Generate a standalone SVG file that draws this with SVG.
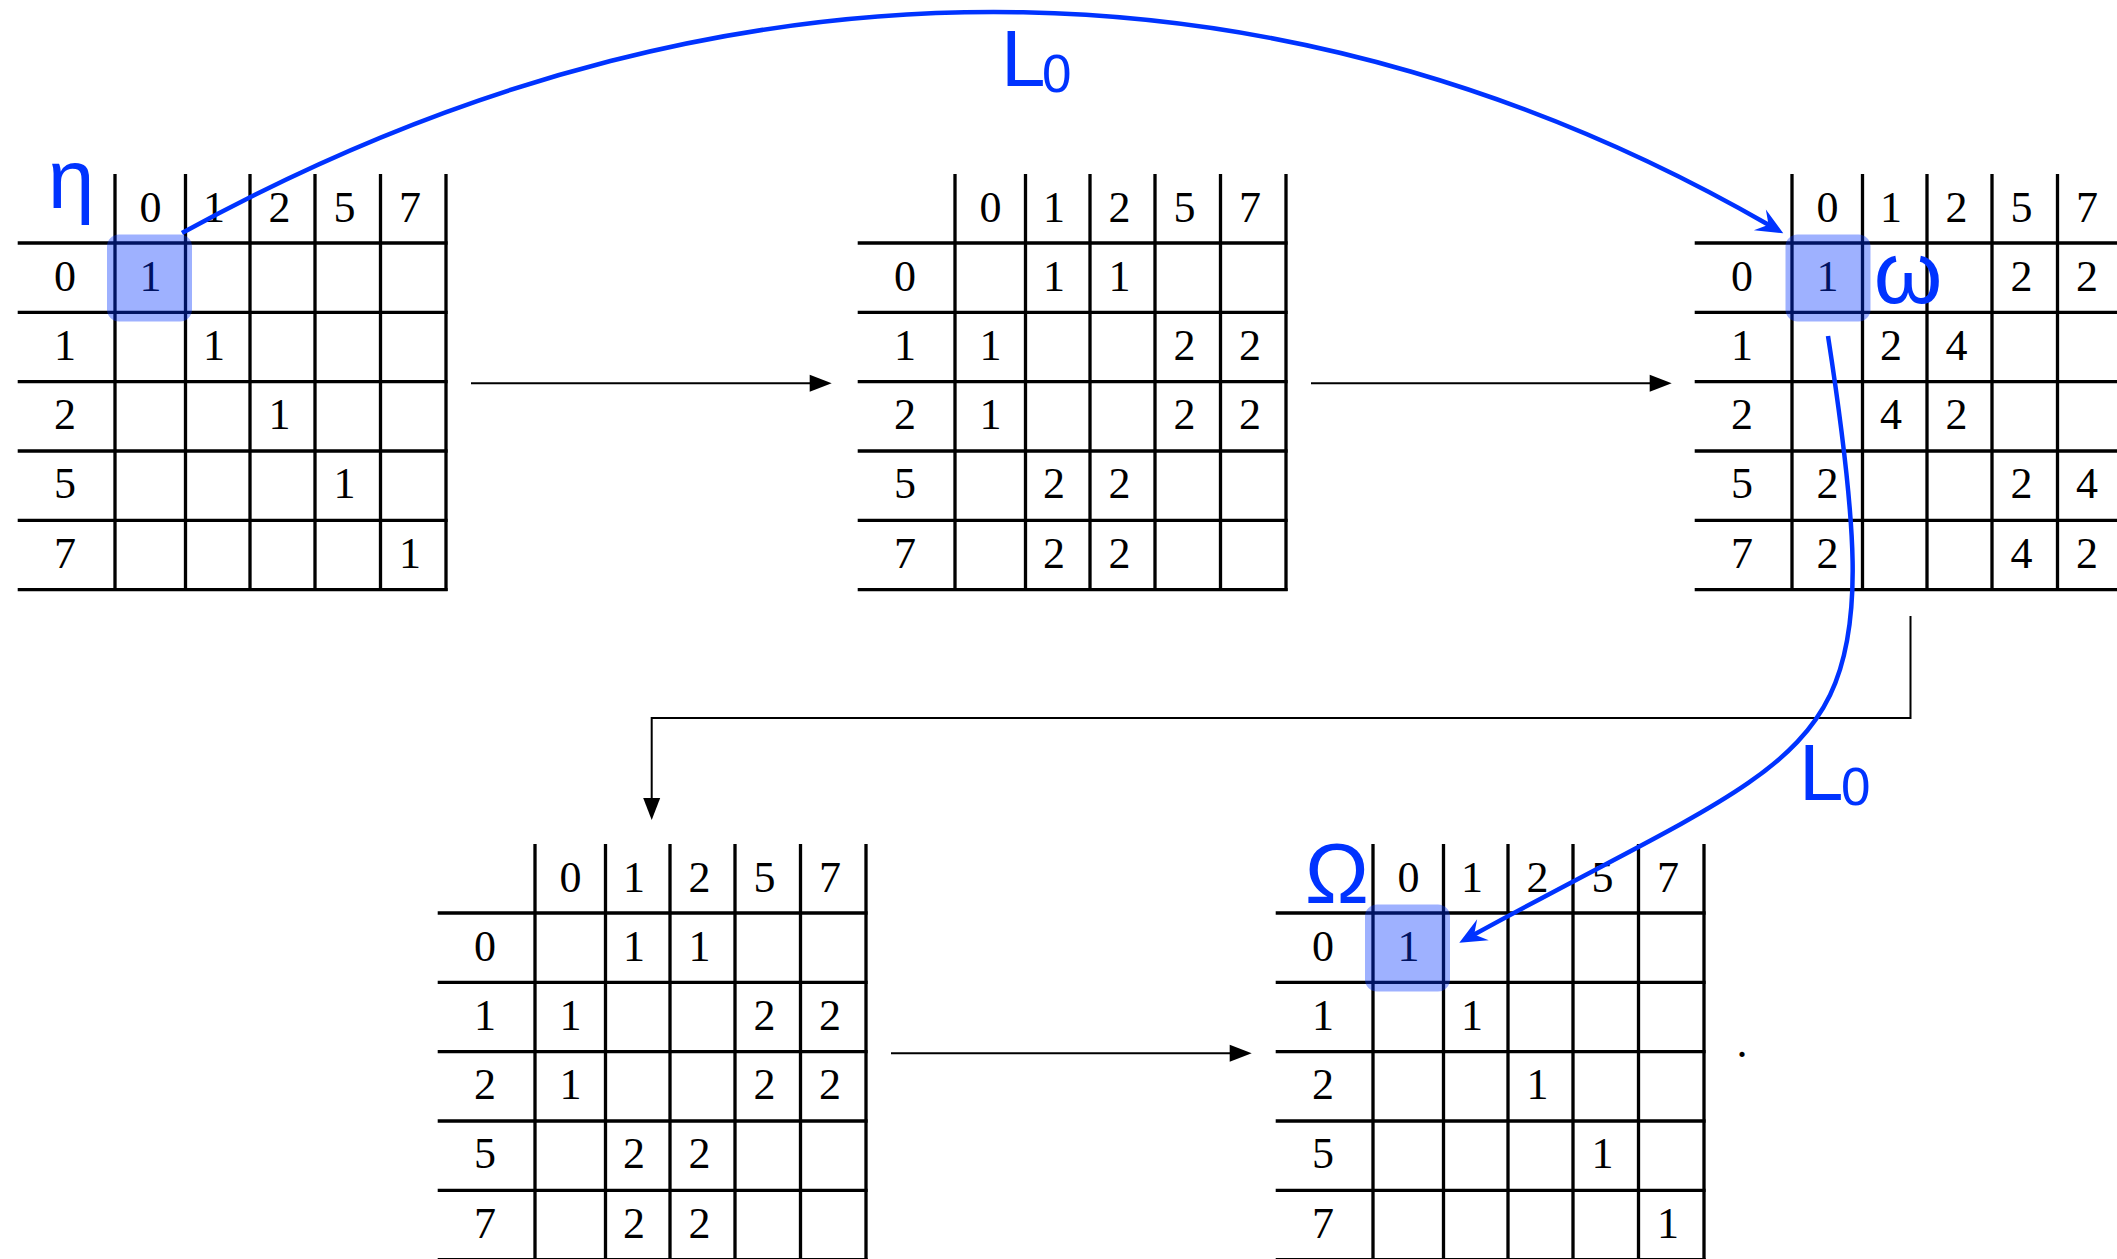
<svg xmlns="http://www.w3.org/2000/svg" xmlns:xlink="http://www.w3.org/1999/xlink" width="2117" height="1259" viewBox="0 0 2117 1259">
<style>
.grid{fill:none;stroke:#000;stroke-width:3.3}
.n{font-family:"Liberation Serif","DejaVu Serif",serif;font-size:44px;fill:#000;text-anchor:middle}
.hl{fill:#0033ff;fill-opacity:0.38}
.gk{font-family:"Liberation Sans","DejaVu Sans",sans-serif;fill:#0033ff;text-anchor:middle}
.lab{font-family:"Liberation Sans","DejaVu Sans",sans-serif;fill:#0033ff}
.arr{fill:none;stroke:#000;stroke-width:2}
.barr{fill:none;stroke:#0033ff;stroke-width:4.5}
</style>
<defs>
<marker id="ah" markerUnits="userSpaceOnUse" viewBox="-24 -10 26 20" refX="-8" refY="0" markerWidth="26" markerHeight="20" orient="auto">
<path d="M0,0 L-22,-8.5 L-22,8.5 Z" fill="#000"/>
</marker>
<marker id="bh" markerUnits="userSpaceOnUse" viewBox="-30 -15 32 30" refX="-16" refY="0" markerWidth="32" markerHeight="30" orient="auto">
<path d="M0,0 L-27,-12 L-17,0 L-27,12 Z" fill="#0033ff"/>
</marker>
<g id="grid">
<path class="grid" d="M115 174V591M185.5 174V591M250 174V591M315 174V591M380.5 174V591M446 174V591"/>
<path class="grid" d="M17.7 243H447.6M17.7 312.3H447.6M17.7 381.7H447.6M17.7 451H447.6M17.7 520.3H447.6M17.7 589.7H447.6"/>
</g>
<g id="heads">
<text class="n" x="150.5" y="221.7">0</text><text class="n" x="214" y="221.7">1</text><text class="n" x="279.5" y="221.7">2</text><text class="n" x="344.5" y="221.7">5</text><text class="n" x="410" y="221.7">7</text>
<text class="n" x="65" y="290.5">0</text><text class="n" x="65" y="359.8">1</text><text class="n" x="65" y="429">2</text><text class="n" x="65" y="498.3">5</text><text class="n" x="65" y="567.6">7</text>
</g>
</defs>

<g id="table-eta">
<use xlink:href="#grid"/>
<use xlink:href="#heads"/>
<text class="n" x="150.5" y="290.5">1</text>
<text class="n" x="214" y="359.8">1</text>
<text class="n" x="279.5" y="429">1</text>
<text class="n" x="344.5" y="498.3">1</text>
<text class="n" x="410" y="567.6">1</text>
<rect class="hl" x="107" y="234.5" width="85" height="87" rx="12"/>
<text class="gk" x="71" y="208" font-size="84">η</text>
</g>

<g id="table-2" transform="translate(840,0)">
<use xlink:href="#grid"/>
<use xlink:href="#heads"/>
<text class="n" x="214" y="290.5">1</text><text class="n" x="279.5" y="290.5">1</text>
<text class="n" x="150.5" y="359.8">1</text><text class="n" x="344.5" y="359.8">2</text><text class="n" x="410" y="359.8">2</text>
<text class="n" x="150.5" y="429">1</text><text class="n" x="344.5" y="429">2</text><text class="n" x="410" y="429">2</text>
<text class="n" x="214" y="498.3">2</text><text class="n" x="279.5" y="498.3">2</text>
<text class="n" x="214" y="567.6">2</text><text class="n" x="279.5" y="567.6">2</text>
</g>

<g id="table-omega" transform="translate(1677,0)">
<use xlink:href="#grid"/>
<use xlink:href="#heads"/>
<text class="n" x="150.5" y="290.5">1</text><text class="n" x="344.5" y="290.5">2</text><text class="n" x="410" y="290.5">2</text>
<text class="n" x="214" y="359.8">2</text><text class="n" x="279.5" y="359.8">4</text>
<text class="n" x="214" y="429">4</text><text class="n" x="279.5" y="429">2</text>
<text class="n" x="150.5" y="498.3">2</text><text class="n" x="344.5" y="498.3">2</text><text class="n" x="410" y="498.3">4</text>
<text class="n" x="150.5" y="567.6">2</text><text class="n" x="344.5" y="567.6">4</text><text class="n" x="410" y="567.6">2</text>
<rect class="hl" x="108.5" y="234.5" width="85" height="87" rx="12"/>
<text class="gk" x="231" y="303" font-size="88">ω</text>
</g>

<g id="table-4" transform="translate(420,670)">
<use xlink:href="#grid"/>
<use xlink:href="#heads"/>
<text class="n" x="214" y="290.5">1</text><text class="n" x="279.5" y="290.5">1</text>
<text class="n" x="150.5" y="359.8">1</text><text class="n" x="344.5" y="359.8">2</text><text class="n" x="410" y="359.8">2</text>
<text class="n" x="150.5" y="429">1</text><text class="n" x="344.5" y="429">2</text><text class="n" x="410" y="429">2</text>
<text class="n" x="214" y="498.3">2</text><text class="n" x="279.5" y="498.3">2</text>
<text class="n" x="214" y="567.6">2</text><text class="n" x="279.5" y="567.6">2</text>
</g>

<g id="table-Omega" transform="translate(1258,670)">
<use xlink:href="#grid"/>
<use xlink:href="#heads"/>
<text class="n" x="150.5" y="290.5">1</text>
<text class="n" x="214" y="359.8">1</text>
<text class="n" x="279.5" y="429">1</text>
<text class="n" x="344.5" y="498.3">1</text>
<text class="n" x="410" y="567.6">1</text>
<rect class="hl" x="107" y="234.5" width="85" height="87" rx="12"/>
<text class="gk" x="79" y="233" font-size="86">Ω</text>
</g>

<text id="period" class="n" x="1742" y="1057">.</text>

<g id="connectors">
<path class="arr" d="M471 383.3H823.7" marker-end="url(#ah)"/>
<path class="arr" d="M1311 383.3H1663.7" marker-end="url(#ah)"/>
<path class="arr" d="M1910.5 616V718H651.7V812" marker-end="url(#ah)"/>
<path class="arr" d="M891 1053.3H1243.7" marker-end="url(#ah)"/>
<path class="barr" d="M182 233C760 -85 1318 -35 1769.4 225.3" marker-end="url(#bh)"/>
<path class="barr" d="M1828 336C1895 770 1841 732.6 1473.3 935" marker-end="url(#bh)"/>
<text class="lab" x="1001" y="86" font-size="80">L</text><text class="lab" x="1042" y="92" font-size="53">0</text>
<text class="lab" x="1799" y="800" font-size="80">L</text><text class="lab" x="1841" y="805" font-size="53">0</text>
</g>
</svg>
